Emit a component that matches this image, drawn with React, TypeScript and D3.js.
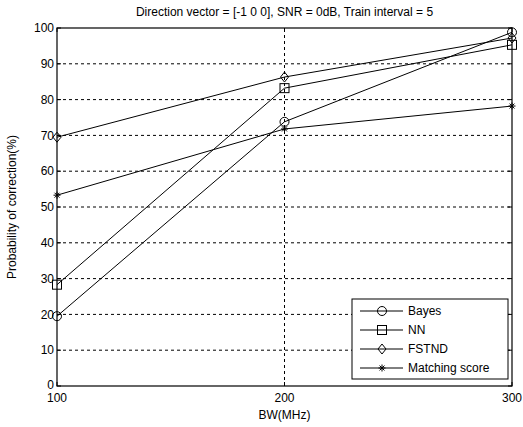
import React from "react";
import * as d3 from "d3";

const xValues = [100, 200, 300];
const bayes = [19.5, 73.8, 98.8];
const nn = [28.3, 83.2, 95.3];
const fstnd = [69.5, 86.3, 97.2];
const matching = [53.3, 71.8, 78.2];
const yTicks = [0, 10, 20, 30, 40, 50, 60, 70, 80, 90, 100];
const xTicks = [100, 200, 300];
const seriesNames = ["Bayes", "NN", "FSTND", "Matching score"];
const markers = ["circle", "square", "diamond", "star"];

const W = 523, H = 427;
const m = { left: 57, right: 11, top: 28, bottom: 41 };
const FONT = "Liberation Sans, Arial, sans-serif";

function Marker({ type, x, y }: { type: string; x: number; y: number }) {
  if (type === "circle") return <circle cx={x} cy={y} r={4.5} fill="none" stroke="#000" strokeWidth={1} />;
  if (type === "square") return <rect x={x - 4.5} y={y - 4.5} width={9} height={9} fill="none" stroke="#000" strokeWidth={1} />;
  if (type === "diamond")
    return <path d={`M${x},${y - 5}L${x + 4},${y}L${x},${y + 5}L${x - 4},${y}Z`} fill="none" stroke="#000" strokeWidth={1} />;
  const s = 3.5;
  return (
    <path
      d={`M${x - s},${y}L${x + s},${y}M${x},${y - s}L${x},${y + s}M${x - s * 0.7},${y - s * 0.7}L${x + s * 0.7},${y + s * 0.7}M${x - s * 0.7},${y + s * 0.7}L${x + s * 0.7},${y - s * 0.7}`}
      stroke="#000"
      strokeWidth={1}
    />
  );
}

export default function App() {
  const x = d3.scaleLinear().domain([100, 300]).range([m.left, W - m.right]);
  const y = d3.scaleLinear().domain([0, 100]).range([H - m.bottom, m.top]);
  const line = d3.line<number>().x((_, i) => x(xValues[i])).y((d) => y(d));
  const series = [bayes, nn, fstnd, matching];
  const x0 = x.range()[0], x1 = x.range()[1], y0 = y.range()[0], y1 = y.range()[1];
  const lg = { x: 352, y: 299, w: 156, h: 80 };
  return (
    <svg width={W} height={H} style={{ position: "absolute", left: 0, top: 0, background: "#fff" }} fontFamily={FONT}>
      <rect width={W} height={H} fill="#fff" />
      {/* grid */}
      {yTicks.slice(1, -1).map((t) => (
        <line key={"gy" + t} x1={x0} x2={x1} y1={y(t)} y2={y(t)} stroke="#000" strokeWidth={1} strokeDasharray="3,3" />
      ))}
      {xTicks.slice(1, -1).map((t) => (
        <line key={"gx" + t} x1={x(t)} x2={x(t)} y1={y0} y2={y1} stroke="#000" strokeWidth={1} strokeDasharray="3,3" />
      ))}
      {/* ticks */}
      {yTicks.map((t) => (
        <g key={"ty" + t}>
          <line x1={x0} x2={x0 + 4} y1={y(t)} y2={y(t)} stroke="#000" />
          <line x1={x1} x2={x1 - 4} y1={y(t)} y2={y(t)} stroke="#000" />
          <text x={x0 - 3} y={y(t) - (t === 0 ? 1 : 0)} dy="0.35em" textAnchor="end" fontSize={12}>{t}</text>
        </g>
      ))}
      {xTicks.map((t) => (
        <g key={"tx" + t}>
          <line x1={x(t)} x2={x(t)} y1={y0} y2={y0 - 4} stroke="#000" />
          <line x1={x(t)} x2={x(t)} y1={y1} y2={y1 + 4} stroke="#000" />
          <text x={x(t)} y={y0 + 16} textAnchor="middle" fontSize={12}>{t}</text>
        </g>
      ))}
      <rect x={x0} y={y1} width={x1 - x0} height={y0 - y1} fill="none" stroke="#000" strokeWidth={1.2} />
      {/* series */}
      {series.map((s, i) => (
        <g key={"s" + i}>
          <path d={line(s) || ""} fill="none" stroke="#000" strokeWidth={1} />
          {s.map((v, j) => (
            <Marker key={j} type={markers[i]} x={x(xValues[j])} y={y(v)} />
          ))}
        </g>
      ))}
      {/* legend */}
      <rect x={lg.x} y={lg.y} width={lg.w} height={lg.h} fill="#fff" stroke="#000" strokeWidth={1} />
      {seriesNames.map((n, i) => {
        const ly = lg.y + 12 + i * 19;
        return (
          <g key={"l" + i}>
            <line x1={lg.x + 8} x2={lg.x + 51} y1={ly} y2={ly} stroke="#000" strokeWidth={1} />
            <Marker type={markers[i]} x={lg.x + 30} y={ly} />
            <text x={lg.x + 56} y={ly} dy="0.35em" fontSize={12}>{n}</text>
          </g>
        );
      })}
      {/* titles */}
      <text x={(x0 + x1) / 2} y={16} textAnchor="middle" fontSize={12}>
        Direction vector = [-1 0 0], SNR = 0dB, Train interval = 5
      </text>
      <text x={(x0 + x1) / 2} y={419} textAnchor="middle" fontSize={12}>BW(MHz)</text>
      <text transform={`translate(16,${(y0 + y1) / 2}) rotate(-90)`} textAnchor="middle" fontSize={12}>
        Probability of correction(%)
      </text>
    </svg>
  );
}
